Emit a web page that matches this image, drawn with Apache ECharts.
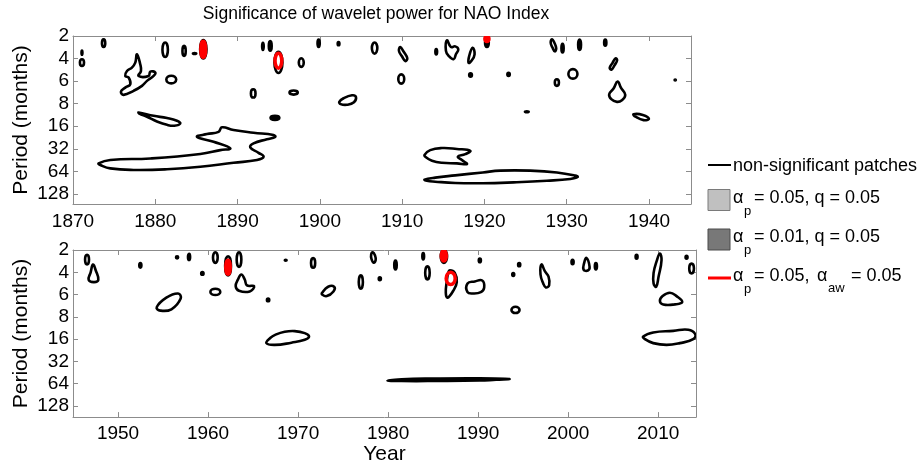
<!DOCTYPE html>
<html>
<head>
<meta charset="utf-8">
<script src="https://cdn.jsdelivr.net/npm/echarts@6/dist/echarts.min.js"></script>
<style>
  html, body { margin: 0; padding: 0; background: #fff; }
  #chart { width: 919px; height: 466px; }
</style>
</head>
<body>
<div id="chart"></div>
<script>
// y axis is the scale index (0 = 2 months ... 7 = 128 months)
const periodTicks = [0, 1, 2, 3, 4, 5, 6, 7];
const periodLabels = ['2', '4', '6', '8', '16', '32', '64', '128'];
const topYears = [1870, 1880, 1890, 1900, 1910, 1920, 1930, 1940];
const bottomYears = [1950, 1960, 1970, 1980, 1990, 2000, 2010];

// contours, points are [year, period index]
// a 4-point entry is a small blob given as top, right, bottom, left
// 1870-1945: non-significant patches (outlines)
const topOutlines = [
  [[1871.09, 1.03], [1871.34, 1.18], [1871.09, 1.33], [1870.84, 1.18]],
  [[1873.72, 0.15], [1873.92, 0.32], [1873.72, 0.49], [1873.52, 0.32]],
  [[1881.2, 0.29], [1881.53, 0.61], [1881.2, 0.93], [1880.87, 0.61]],
  [[1883.5, 0.44], [1883.7, 0.66], [1883.5, 0.88], [1883.3, 0.66]],
  [[1885.85, 0.18], [1886.22, 0.6], [1885.85, 1.0], [1885.45, 0.6]],
  [[1877.77, 0.81], [1878.17, 1.25], [1878.26, 1.55], [1877.97, 1.77], [1879.19, 1.77], [1879.39, 1.58],
   [1880.0, 1.62], [1879.8, 1.77], [1878.99, 1.99], [1878.38, 2.21], [1877.37, 2.43], [1876.15, 2.61],
   [1875.83, 2.46], [1876.35, 2.29], [1876.96, 2.14], [1876.76, 1.84], [1876.35, 1.77], [1876.56, 1.55],
   [1877.16, 1.40], [1877.57, 1.18]],
  [[1881.94, 1.76], [1882.54, 1.93], [1881.94, 2.1], [1881.34, 1.93]],
  [[1891.9, 2.36], [1892.18, 2.55], [1891.9, 2.73], [1891.62, 2.55]],
  [[1877.97, 3.39], [1879.8, 3.54], [1881.42, 3.64], [1882.63, 3.76], [1883.04, 3.88], [1882.31, 3.98],
   [1881.42, 3.94], [1880.2, 3.79], [1878.99, 3.58], [1878.05, 3.44]],
  [[1873.11, 5.65], [1874.53, 5.50], [1879.39, 5.43], [1885.47, 5.23], [1887.9, 5.06], [1889.11, 4.98],
   [1887.08, 4.69], [1885.07, 4.47], [1886.28, 4.35], [1887.69, 4.25], [1888.1, 4.05], [1889.51, 4.17],
   [1891.94, 4.29], [1894.37, 4.39], [1894.58, 4.47], [1893.57, 4.58], [1891.94, 4.76], [1891.54, 4.94],
   [1892.55, 5.18], [1893.16, 5.35], [1892.36, 5.50], [1889.51, 5.62], [1885.47, 5.80], [1881.42, 5.91],
   [1877.36, 5.94], [1874.53, 5.87], [1873.32, 5.72]],
  [[1906.65, 0.29], [1906.98, 0.53], [1906.65, 0.78], [1906.32, 0.53]],
  [[1909.77, 0.49], [1910.17, 0.69], [1910.62, 0.99], [1910.38, 1.11], [1909.97, 0.90], [1909.61, 0.66]],
  [[1915.44, 0.19], [1915.92, 0.49], [1916.45, 0.46], [1916.82, 0.59], [1916.53, 0.81], [1916.25, 1.03],
   [1915.64, 0.88], [1915.32, 0.66]],
  [[1918.56, 0.52], [1918.8, 0.81], [1918.4, 1.11], [1918.07, 1.19], [1918.15, 0.88]],
  [[1894.95, 0.7], [1895.45, 1.15], [1894.98, 1.64], [1894.48, 1.15]],
  [[1897.74, 0.99], [1898.04, 1.18], [1897.74, 1.37], [1897.44, 1.18]],
  [[1896.81, 2.42], [1897.31, 2.51], [1896.81, 2.6], [1896.31, 2.51]],
  [[1902.36, 2.92], [1902.88, 2.76], [1903.9, 2.63], [1904.38, 2.70], [1904.14, 2.94], [1903.29, 3.05], [1902.52, 3.02]],
  [[1909.89, 1.7], [1910.25, 1.9], [1909.89, 2.11], [1909.53, 1.9]],
  [[1912.72, 5.27], [1913.41, 5.06], [1914.83, 4.97], [1916.65, 5.01], [1918.27, 5.09], [1917.67, 5.24],
   [1916.77, 5.35], [1917.26, 5.50], [1917.87, 5.68], [1916.65, 5.65], [1914.83, 5.62], [1913.62, 5.53],
   [1912.89, 5.38]],
  [[1912.72, 6.37], [1914.02, 6.28], [1916.45, 6.18], [1919.8, 6.05], [1921.92, 5.97], [1925.57, 5.97],
   [1928.81, 6.05], [1931.03, 6.19], [1931.32, 6.25], [1930.43, 6.34], [1927.59, 6.42], [1923.54, 6.49],
   [1919.8, 6.53], [1916.45, 6.52], [1914.02, 6.46], [1913.0, 6.42]],
  [[1928.2, 0.15], [1928.5, 0.3], [1928.72, 0.55], [1928.55, 0.68], [1928.25, 0.5], [1928.05, 0.3]],
  [[1935.93, 0.99], [1936.12, 1.08], [1935.8, 1.3], [1935.45, 1.49], [1935.22, 1.42], [1935.55, 1.2]],
  [[1930.75, 1.47], [1931.3, 1.68], [1930.75, 1.89], [1930.2, 1.68]],
  [[1928.8, 1.92], [1929.05, 2.06], [1928.8, 2.21], [1928.55, 2.06]],
  [[1936.18, 2.02], [1936.58, 2.29], [1937.11, 2.61], [1936.7, 2.85], [1936.1, 2.92], [1935.41, 2.80],
   [1935.16, 2.58], [1935.69, 2.33]],
  [[1938.12, 3.47], [1939.25, 3.50], [1939.98, 3.67], [1939.34, 3.73], [1938.36, 3.58]]
];
// 1870-1945: tiny patches that print as solid dots
const topDots = [
  [[1871.09, 0.64], [1871.17, 0.74], [1871.09, 0.84], [1871.01, 0.74]],
  [[1884.75, 0.75], [1885.0, 0.78], [1884.75, 0.81], [1884.55, 0.78]],
  [[1894.54, 3.53], [1895.1, 3.63], [1894.54, 3.73], [1893.98, 3.63]],
  [[1899.85, 0.15], [1900.01, 0.32], [1899.85, 0.49], [1899.69, 0.32]],
  [[1902.27, 0.26], [1902.4, 0.34], [1902.27, 0.42], [1902.14, 0.34]],
  [[1914.14, 0.57], [1914.27, 0.7], [1914.14, 0.83], [1914.01, 0.7]],
  [[1918.31, 1.65], [1918.5, 1.73], [1918.31, 1.81], [1918.12, 1.73]],
  [[1920.3, 0.1], [1920.55, 0.28], [1920.3, 0.49], [1920.05, 0.28]],
  [[1929.49, 0.34], [1929.65, 0.54], [1929.49, 0.74], [1929.33, 0.54]],
  [[1931.56, 0.15], [1931.76, 0.39], [1931.56, 0.63], [1931.36, 0.39]],
  [[1934.68, 0.15], [1934.84, 0.3], [1934.68, 0.44], [1934.52, 0.3]],
  [[1922.93, 1.62], [1923.1, 1.7], [1922.93, 1.78], [1922.76, 1.7]],
  [[1943.18, 1.92], [1943.28, 1.95], [1943.18, 1.98], [1943.08, 1.95]],
  [[1925.15, 3.33], [1925.4, 3.36], [1925.15, 3.39], [1924.9, 3.36]],
  [[1893.08, 0.29], [1893.2, 0.46], [1893.08, 0.63], [1892.96, 0.46]],
  [[1893.97, 0.22], [1894.17, 0.44], [1893.97, 0.66], [1893.77, 0.44]]
];
// 1870-1945: significant at alpha_p = 0.05, alpha_aw = 0.05
const topRedSolid = [
  [[1885.85, 0.22], [1886.15, 0.6], [1885.85, 0.96], [1885.5, 0.6]],
  [[1920.3, 0.0], [1920.58, 0.13], [1920.3, 0.26], [1920.02, 0.13]]
];
const topRedRings = [
  [[1894.95, 0.77], [1895.37, 1.1], [1894.97, 1.43], [1894.55, 1.1]]
];

// 1945-2014
const bottomOutlines = [
  [[1946.56, 0.21], [1946.78, 0.43], [1946.56, 0.65], [1946.34, 0.43]],
  [[1947.22, 0.65], [1947.52, 0.91], [1947.81, 1.35], [1947.3, 1.44], [1946.74, 1.34], [1946.96, 1.0]],
  [[1960.81, 0.1], [1961.07, 0.34], [1960.81, 0.58], [1960.55, 0.34]],
  [[1962.22, 0.28], [1962.55, 0.75], [1962.22, 1.14], [1961.9, 0.75]],
  [[1963.44, 0.1], [1963.7, 0.43], [1963.44, 0.76], [1963.18, 0.43]],
  [[1960.81, 1.74], [1961.36, 1.88], [1960.81, 2.02], [1960.26, 1.88]],
  [[1963.7, 1.10], [1964.07, 1.32], [1964.33, 1.59], [1965.11, 1.62], [1964.63, 1.86], [1963.44, 1.83],
   [1963.07, 1.62], [1963.33, 1.32]],
  [[1956.67, 1.95], [1956.96, 2.18], [1955.93, 2.66], [1954.7, 2.72], [1954.3, 2.57], [1955.37, 2.14]],
  [[1966.48, 4.18], [1966.9, 3.95], [1967.5, 3.8], [1968.52, 3.67], [1969.63, 3.64], [1970.74, 3.73],
   [1971.22, 3.88], [1970.74, 4.03], [1969.26, 4.16], [1967.41, 4.26]],
  [[1971.67, 0.36], [1971.9, 0.58], [1971.67, 0.8], [1971.44, 0.58]],
  [[1978.3, 0.1], [1978.55, 0.25], [1978.62, 0.45], [1978.4, 0.57], [1978.15, 0.4], [1978.12, 0.2]],
  [[1986.19, 0.0], [1986.55, 0.29], [1986.19, 0.58], [1985.85, 0.29]],
  [[1984.37, 0.73], [1984.62, 1.02], [1984.37, 1.32], [1984.12, 1.02]],
  [[1976.97, 1.14], [1977.2, 1.44], [1976.97, 1.74], [1976.74, 1.44]],
  [[1972.67, 1.92], [1973.34, 1.65], [1974.0, 1.65], [1973.93, 1.86], [1973.19, 2.07], [1972.67, 2.0]],
  [[1986.85, 0.91], [1987.41, 1.03], [1987.63, 1.44], [1987.22, 1.84], [1986.6, 2.14], [1986.41, 1.92],
   [1986.52, 1.40], [1986.67, 1.03]],
  [[1988.82, 1.50], [1989.63, 1.41], [1990.45, 1.37], [1990.67, 1.69], [1990.3, 1.89], [1989.45, 1.95], [1988.82, 1.89]],
  [[1979.93, 5.86], [1981.5, 5.8], [1985, 5.77], [1990.2, 5.76], [1993.45, 5.79], [1992, 5.82],
   [1990.2, 5.86], [1985, 5.88], [1981.5, 5.88]],
  [[1997.04, 0.65], [1997.41, 0.95], [1997.82, 1.20], [1997.89, 1.58], [1997.52, 1.68], [1997.23, 1.50], [1996.93, 1.10]],
  [[2002.04, 0.36], [2002.38, 0.76], [2002.19, 0.92], [2001.71, 0.88], [2001.78, 0.58]],
  [[1994.15, 2.55], [1994.6, 2.69], [1994.15, 2.83], [1993.7, 2.69]],
  [[2010.19, 0.16], [2010.37, 0.46], [2010.04, 1.20], [2009.78, 1.65], [2009.49, 1.50], [2009.49, 1.03], [2009.82, 0.51]],
  [[2013.7, 0.61], [2013.97, 0.83], [2013.7, 1.05], [2013.45, 0.83]],
  [[2010.19, 2.29], [2010.49, 2.07], [2011.3, 1.92], [2012.04, 2.07], [2012.67, 2.33], [2011.86, 2.44], [2010.56, 2.45]],
  [[2008.34, 3.88], [2009.45, 3.70], [2011.67, 3.63], [2013.34, 3.58], [2014.1, 3.77], [2013.89, 4.0],
   [2012.41, 4.18], [2010.93, 4.26], [2009.45, 4.18], [2008.52, 4.0]]
];
const bottomDots = [
  [[1952.48, 0.58], [1952.62, 0.69], [1952.48, 0.8], [1952.34, 0.69]],
  [[1956.56, 0.27], [1956.7, 0.33], [1956.56, 0.39], [1956.42, 0.33]],
  [[1957.89, 0.16], [1958.03, 0.31], [1957.89, 0.46], [1957.75, 0.31]],
  [[1959.37, 0.98], [1959.52, 1.05], [1959.37, 1.12], [1959.22, 1.05]],
  [[1966.67, 2.17], [1966.82, 2.24], [1966.67, 2.31], [1966.52, 2.24]],
  [[1968.62, 0.43], [1968.75, 0.46], [1968.62, 0.49], [1968.5, 0.46]],
  [[1980.82, 0.46], [1980.98, 0.67], [1980.82, 0.88], [1980.66, 0.67]],
  [[1983.9, 0.13], [1984.02, 0.28], [1983.9, 0.43], [1983.78, 0.28]],
  [[1979.08, 1.22], [1979.22, 1.29], [1979.08, 1.36], [1978.94, 1.29]],
  [[1990.19, 0.38], [1990.33, 0.46], [1990.19, 0.56], [1990.05, 0.46]],
  [[1994.56, 0.58], [1994.7, 0.66], [1994.56, 0.74], [1994.42, 0.66]],
  [[1993.9, 1.03], [1994.03, 1.1], [1993.9, 1.17], [1993.77, 1.1]],
  [[2000.49, 0.43], [2000.63, 0.54], [2000.49, 0.65], [2000.35, 0.54]],
  [[2003.08, 0.58], [2003.22, 0.73], [2003.08, 0.88], [2002.94, 0.73]],
  [[2007.6, 0.21], [2007.73, 0.3], [2007.6, 0.4], [2007.47, 0.3]],
  [[2013.15, 0.25], [2013.28, 0.32], [2013.15, 0.4], [2013.02, 0.32]]
];
const bottomRedSolid = [
  [[1962.22, 0.45], [1962.5, 0.78], [1962.22, 1.1], [1961.94, 0.78]],
  [[1986.19, 0.01], [1986.5, 0.25], [1986.19, 0.51], [1985.88, 0.25]]
];
const bottomRedRings = [
  [[1986.95, 1.0], [1987.45, 1.28], [1986.95, 1.55], [1986.45, 1.28]]
];

const FONT = '"Liberation Sans", Arial, Helvetica, sans-serif';
const AXIS_GREY = '#8c8c8c';

// one custom series draws a list of closed contours through the axis scales
function contourSeries(name, panel, list, stroke, fill, width) {
  return {
    name: name,
    type: 'custom',
    coordinateSystem: 'cartesian2d',
    xAxisIndex: panel * 2,
    yAxisIndex: panel * 2,
    silent: true,
    animation: false,
    data: list.map(c => c[0]),
    renderItem: function (params, api) {
      const pts = list[params.dataIndex].map(p => api.coord(p));
      const cs = params.coordSys;
      const clip = { type: 'rect', shape: { x: cs.x, y: cs.y, width: cs.width, height: cs.height } };
      const style = { fill: fill, stroke: stroke, lineWidth: width, lineJoin: 'round' };
      if (pts.length === 4) {
        // top, right, bottom, left -> ellipse
        return {
          type: 'ellipse',
          shape: {
            cx: (pts[1][0] + pts[3][0]) / 2, cy: (pts[0][1] + pts[2][1]) / 2,
            rx: Math.abs(pts[1][0] - pts[3][0]) / 2, ry: Math.abs(pts[2][1] - pts[0][1]) / 2
          },
          style: style, clipPath: clip
        };
      }
      return {
        type: 'polygon',
        shape: { points: pts, smooth: 0.45 },
        style: style, clipPath: clip
      };
    }
  };
}

function yearAxis(grid, min, max, ticks, bottom) {
  return {
    type: 'value', gridIndex: grid, min: min, max: max,
    position: bottom ? 'bottom' : 'top',
    axisLine: { show: true, onZero: false, lineStyle: { color: AXIS_GREY, width: 1 } },
    axisTick: { show: true, inside: true, length: 5, customValues: ticks, lineStyle: { color: AXIS_GREY } },
    axisLabel: {
      show: bottom, customValues: ticks, color: '#000', fontSize: 19, fontFamily: FONT, margin: 8,
      formatter: v => String(v)
    },
    splitLine: { show: false }
  };
}

function periodAxis(grid, max, left) {
  return {
    type: 'value', gridIndex: grid, min: 0, max: max, inverse: true,
    position: left ? 'left' : 'right',
    name: left ? 'Period (months)' : '',
    nameLocation: 'middle', nameGap: 41, nameMoveOverlap: false,
    nameTextStyle: { fontSize: 21, color: '#000', fontFamily: FONT },
    axisLine: { show: true, onZero: false, lineStyle: { color: AXIS_GREY, width: 1 } },
    axisTick: { show: true, inside: true, length: 5, customValues: periodTicks, lineStyle: { color: AXIS_GREY } },
    axisLabel: {
      show: left, customValues: periodTicks, color: '#000', fontSize: 19, fontFamily: FONT, margin: 4,
      formatter: v => periodLabels[Math.round(v)]
    },
    splitLine: { show: false }
  };
}

const chart = echarts.init(document.getElementById('chart'), null, { renderer: 'canvas' });

const xAxes = [
  yearAxis(0, 1870, 1945.1, topYears, true),
  yearAxis(0, 1870, 1945.1, topYears, false),
  yearAxis(1, 1945, 2014.2, bottomYears, true),
  yearAxis(1, 1945, 2014.2, bottomYears, false)
];
xAxes[2].axisLabel.margin = 7;
xAxes[2].name = 'Year';
xAxes[2].nameLocation = 'middle';
xAxes[2].nameGap = 24;
xAxes[2].nameTextStyle = { fontSize: 21, color: '#000', fontFamily: FONT };

const legendText = (x, y, text, size) => ({
  type: 'text', x: x, y: y,
  style: { text: text, fill: '#000', font: size + 'px ' + FONT, verticalAlign: 'middle', align: 'left' }
});

const option = {
  backgroundColor: '#fff',
  animation: false,
  grid: [
    { left: 73, top: 36, width: 618, height: 168, containLabel: false },
    { left: 73, top: 250, width: 623, height: 168, containLabel: false }
  ],
  xAxis: xAxes,
  yAxis: [
    periodAxis(0, 7.45, true),
    periodAxis(0, 7.45, false),
    periodAxis(1, 7.5, true),
    periodAxis(1, 7.5, false)
  ],
  series: [
    contourSeries('top outlines', 0, topOutlines, '#000', 'none', 2.6),
    contourSeries('top dots', 0, topDots, '#000', '#000', 2.2),
    contourSeries('top red', 0, topRedSolid, '#ff0000', '#ff0000', 3),
    contourSeries('top red rings', 0, topRedRings, '#ff0000', 'none', 3.5),
    contourSeries('bottom outlines', 1, bottomOutlines, '#000', 'none', 2.6),
    contourSeries('bottom dots', 1, bottomDots, '#000', '#000', 2.2),
    contourSeries('bottom red', 1, bottomRedSolid, '#ff0000', '#ff0000', 3),
    contourSeries('bottom red rings', 1, bottomRedRings, '#ff0000', 'none', 3.5)
  ],
  graphic: [
    {
      type: 'text', x: 376, y: 14,
      style: {
        text: 'Significance of wavelet power for NAO Index', fill: '#000',
        font: '17.5px ' + FONT, align: 'center', verticalAlign: 'middle'
      }
    },
    // legend
    { type: 'line', shape: { x1: 708, y1: 165, x2: 731, y2: 165 }, style: { stroke: '#000', lineWidth: 2 } },
    legendText(733, 166, 'non-significant patches', 18),
    { type: 'rect', shape: { x: 708, y: 189.5, width: 22, height: 21 }, style: { fill: '#c0c0c0', stroke: '#7a7a7a', lineWidth: 1 } },
    legendText(733, 198, 'α', 18),
    legendText(744, 211, 'p', 13),
    legendText(754, 198, '= 0.05, q = 0.05', 18),
    { type: 'rect', shape: { x: 708, y: 229, width: 22, height: 21 }, style: { fill: '#787878', stroke: '#4a4a4a', lineWidth: 1 } },
    legendText(733, 237, 'α', 18),
    legendText(744, 250, 'p', 13),
    legendText(754, 237, '= 0.01, q = 0.05', 18),
    { type: 'line', shape: { x1: 708, y1: 278, x2: 731, y2: 278 }, style: { stroke: '#ff0000', lineWidth: 3 } },
    legendText(733, 276, 'α', 18),
    legendText(744, 289, 'p', 13),
    legendText(754, 276, '= 0.05,', 18),
    legendText(817, 276, 'α', 18),
    legendText(828, 288, 'aw', 13),
    legendText(846, 276, ' = 0.05', 18)
  ]
};

chart.setOption(option);
</script>
</body>
</html>
